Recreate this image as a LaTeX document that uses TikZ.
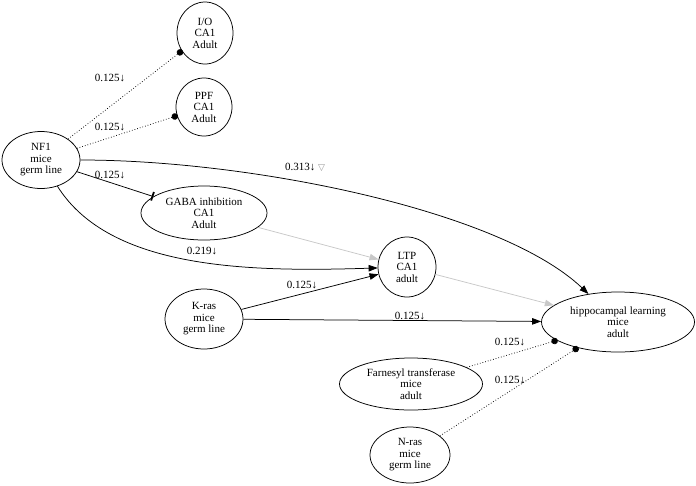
\documentclass[tikz,border=0pt]{standalone}
\usepackage{fontspec}
\setmainfont{Liberation Serif}
\newfontfamily\glyphfont{DejaVu Sans}
\usetikzlibrary{arrows.meta,shapes.geometric}

\definecolor{faintgray}{RGB}{200,200,200}
\definecolor{markgray}{RGB}{150,150,150}

\begin{document}
\begin{tikzpicture}[x=1pt, y=-1pt, line width=0.75pt,
    every node/.style = {font=\fontsize{11}{11.5}\selectfont, align=center},
    fact/.style = {shape=ellipse, draw, inner sep=0pt},
    lbl/.style = {inner sep=1pt},
    hit/.style = {-{Triangle[length=9pt,width=6.5pt]}},
    faint/.style = {draw=faintgray, -{Triangle[length=9pt,width=6.5pt,fill=faintgray]}},
    dotlink/.style = {dotted, -{Circle[length=6.5pt,sep=-1pt]}},
    teelink/.style = {-{Bar[width=9pt,line width=1.8pt]}}]
  \useasboundingbox (0,0) rectangle (696,485);

  % experiments
  \node[fact, minimum width=56, minimum height=62] (io) at (205,33) {I/O\\CA1\\Adult};
  \node[fact, minimum width=56, minimum height=58] (ppf) at (204,107) {PPF\\CA1\\Adult};
  \node[fact, minimum width=78, minimum height=57] (nf1) at (41,160) {NF1\\mice\\germ line};
  \node[fact, minimum width=126, minimum height=54] (gaba) at (204,213) {GABA inhibition\\CA1\\Adult};
  \node[fact, minimum width=58, minimum height=60] (ltp) at (407,267) {LTP\\CA1\\adult};
  \node[fact, minimum width=78, minimum height=60] (kras) at (204,319) {K-ras\\mice\\germ line};
  \node[fact, minimum width=153, minimum height=60] (hip) at (618,322) {hippocampal learning\\mice\\adult};
  \node[fact, minimum width=143, minimum height=52] (farn) at (411,384) {Farnesyl transferase\\mice\\adult};
  \node[fact, minimum width=80, minimum height=56] (nras) at (410,455) {N-ras\\mice\\germ line};

  % links
  \draw[dotlink] (nf1) -- (io);
  \draw[dotlink] (nf1) -- (ppf);
  \draw[teelink] (nf1) -- (gaba);
  \draw[hit] (nf1) .. controls (250,160) and (500,210) .. (hip);
  \draw[hit] (nf1) .. controls (110,270) and (250,272) .. (ltp);
  \draw[faint] (gaba) -- (ltp);
  \draw[faint] (ltp) -- (hip);
  \draw[hit] (kras) -- (ltp);
  \draw[hit] (kras) -- (hip);
  \draw[dotlink] (farn) -- (hip);
  \draw[dotlink] (nras) -- (hip);

  % weights
  \node[lbl] (w-io) at (110,78) {0.125↓};
  \node[lbl] (w-ppf) at (110,127) {0.125↓};
  \node[lbl] (w-gaba) at (110,175) {0.125↓};
  \node[lbl] (w-hip) at (305,167) {0.313↓ {\glyphfont\color{markgray}\fontsize{9}{9}\selectfont ▽}};
  \node[lbl] (w-ltp) at (202,251) {0.219↓};
  \node[lbl] (w-kras) at (302,285) {0.125↓};
  \node[lbl] (w-krhip) at (410,316) {0.125↓};
  \node[lbl] (w-farn) at (510,342) {0.125↓};
  \node[lbl] (w-nras) at (510,380) {0.125↓};
\end{tikzpicture}
\end{document}
